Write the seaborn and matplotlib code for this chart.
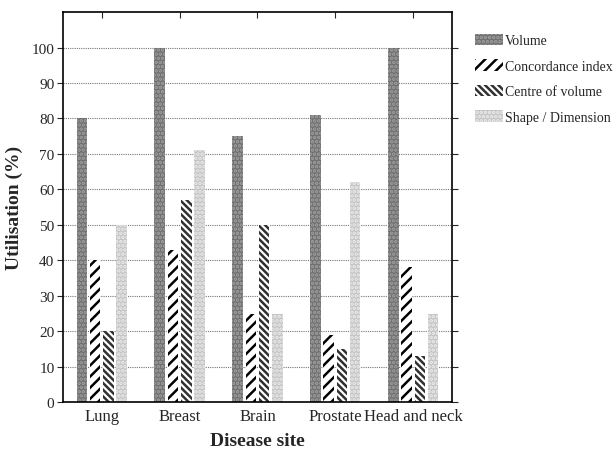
"""
Utilisation of contour comparison metrics by disease site
"""

import pandas as pd
import matplotlib.pyplot as plt
import seaborn as sns

SITES = ["Lung", "Breast", "Brain", "Prostate", "Head and neck"]
METRICS = ["Volume", "Concordance index", "Centre of volume", "Shape / Dimension"]
VOLUME = [80, 100, 75, 81, 100]
CONCORDANCE = [40, 43, 25, 19, 38]
CENTRE = [20, 57, 50, 15, 13]
SHAPE = [50, 71, 25, 62, 25]

# face, hatch colour, hatch pattern per metric
STYLES = [
    ("#6f6f6f", "#a0a0a0", "...."),
    ("white", "black", "///"),
    ("white", "#303030", "\\\\\\\\\\"),
    ("#c4c4c4", "#ececec", "...."),
]

sns.set_style("white")
plt.rcParams["font.family"] = ["Liberation Serif", "DejaVu Serif"]
plt.rcParams["hatch.linewidth"] = 1.8

df = pd.DataFrame(
    {
        "site": SITES * 4,
        "metric": [m for m in METRICS for _ in SITES],
        "value": VOLUME + CONCORDANCE + CENTRE + SHAPE,
    }
)

fig = plt.figure(figsize=(6.16, 4.52), dpi=100)
ax = fig.add_axes([0.102, 0.108, 0.632, 0.863])
sns.barplot(
    data=df,
    x="site",
    y="value",
    hue="metric",
    order=SITES,
    hue_order=METRICS,
    width=0.68,
    gap=0.2,
    palette=["grey"] * 4,
    ax=ax,
)

for cont, (face, hc, hatch) in zip(ax.containers, STYLES):
    for bar in cont:
        bar.set_facecolor(face)
        bar.set_edgecolor(hc)
        bar.set_hatch(hatch)
        bar.set_linewidth(0)

handles, labels = ax.get_legend_handles_labels()
for h, (face, hc, hatch) in zip(handles, STYLES):
    h.set_facecolor(face)
    h.set_edgecolor(hc)
    h.set_hatch(hatch)
    h.set_linewidth(0)
ax.legend_.remove()
fig.legend(
    handles,
    labels,
    loc="upper left",
    bbox_to_anchor=(0.762, 0.935),
    frameon=False,
    fontsize=10,
    handlelength=2.0,
    handleheight=0.9,
    handletextpad=0.15,
    labelspacing=0.85,
    borderaxespad=0,
)

ax.set_ylim(0, 110)
ax.set_yticks(range(0, 101, 10))
ax.yaxis.grid(True, linestyle=(0, (1, 1)), color="#777777", linewidth=0.8)
ax.set_axisbelow(True)
for s in ax.spines.values():
    s.set_visible(True)
    s.set_color("black")
    s.set_linewidth(1.2)
ax.tick_params(axis="y", left=True, right=True, direction="out", length=4,
               labelsize=11, pad=2)
ax.tick_params(axis="x", bottom=False, top=True, direction="in", length=4,
               labelsize=12, pad=4)
ax.set_xlabel("Disease site", fontsize=14, fontweight="bold", labelpad=6)
ax.set_ylabel("Utilisation (%)", fontsize=14, fontweight="bold", labelpad=6)

plt.savefig("out.png", dpi=100)
